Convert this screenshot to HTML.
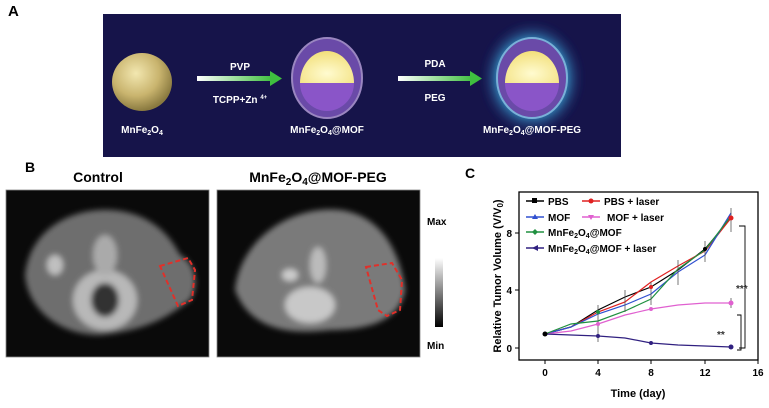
<!DOCTYPE html>
<html><head><style>
html,body{margin:0;padding:0;background:#fff;}
svg{display:block;font-family:"Liberation Sans",Arial,sans-serif;font-weight:bold;}
</style></head><body>
<svg width="769" height="408" viewBox="0 0 769 408" xmlns="http://www.w3.org/2000/svg">
<defs>
<radialGradient id="gold" cx="40%" cy="35%" r="65%"><stop offset="0" stop-color="#f2e7b0"/><stop offset="0.6" stop-color="#c9b46e"/><stop offset="1" stop-color="#8a7a40"/></radialGradient>
<radialGradient id="yel" cx="50%" cy="70%" r="70%"><stop offset="0" stop-color="#fffbd0"/><stop offset="1" stop-color="#f2df7a"/></radialGradient>
<radialGradient id="glow" cx="50%" cy="50%" r="50%"><stop offset="0.6" stop-color="#3fb6e8" stop-opacity="0.9"/><stop offset="1" stop-color="#1a1a5a" stop-opacity="0"/></radialGradient>
<linearGradient id="arr" x1="0" x2="1"><stop offset="0" stop-color="#ffffff"/><stop offset="1" stop-color="#3fbf3f"/></linearGradient>
<linearGradient id="cb" x1="0" y1="0" x2="0" y2="1"><stop offset="0" stop-color="#fff"/><stop offset="1" stop-color="#000"/></linearGradient>
<filter id="bl"><feGaussianBlur stdDeviation="3"/></filter>
</defs>
<!-- Panel A -->
<text x="8" y="16" font-size="15">A</text>
<rect x="103" y="14" width="518" height="143" fill="#16144a"/>
<ellipse cx="142" cy="82" rx="30" ry="29" fill="url(#gold)"/>
<text x="142" y="133" font-size="10" fill="#fff" text-anchor="middle">MnFe<tspan font-size="7" dy="2">2</tspan><tspan dy="-2">O</tspan><tspan font-size="7" dy="2">4</tspan></text>
<rect x="197" y="76" width="75" height="5" fill="url(#arr)"/><polygon points="270,71 282,78.5 270,86" fill="#3fbf3f"/>
<text x="240" y="70" font-size="10" fill="#fff" text-anchor="middle">PVP</text>
<text x="240" y="103" font-size="10" fill="#fff" text-anchor="middle">TCPP+Zn <tspan font-size="6" dy="-4">4+</tspan></text>
<ellipse cx="327" cy="78" rx="35" ry="40" fill="#6a4aa8" stroke="#9a86c0" stroke-width="2"/>
<path d="M300,83 A27 32 0 0 1 354 83 Z" fill="url(#yel)"/>
<path d="M300,83 L354,83 A27 28 0 0 1 300 83 Z" fill="#8a55c8"/>
<text x="327" y="133" font-size="10" fill="#fff" text-anchor="middle">MnFe<tspan font-size="7" dy="2">2</tspan><tspan dy="-2">O</tspan><tspan font-size="7" dy="2">4</tspan><tspan dy="-2">@MOF</tspan></text>
<rect x="398" y="76" width="75" height="5" fill="url(#arr)"/><polygon points="470,71 482,78.5 470,86" fill="#3fbf3f"/>
<text x="435" y="67" font-size="10" fill="#fff" text-anchor="middle">PDA</text>
<text x="435" y="101" font-size="10" fill="#fff" text-anchor="middle">PEG</text>
<ellipse cx="532" cy="78" rx="52" ry="58" fill="url(#glow)" filter="url(#bl)"/>
<ellipse cx="532" cy="78" rx="35" ry="40" fill="#6a4aa8" stroke="#7ab0d8" stroke-width="2"/>
<path d="M505,83 A27 32 0 0 1 559 83 Z" fill="url(#yel)"/>
<path d="M505,83 L559,83 A27 28 0 0 1 505 83 Z" fill="#8a55c8"/>
<text x="532" y="133" font-size="10" fill="#fff" text-anchor="middle">MnFe<tspan font-size="7" dy="2">2</tspan><tspan dy="-2">O</tspan><tspan font-size="7" dy="2">4</tspan><tspan dy="-2">@MOF-PEG</tspan></text>
<!-- Panel B -->
<text x="25" y="172" font-size="14">B</text>
<text x="98" y="182" font-size="14" text-anchor="middle">Control</text>
<text x="318" y="182" font-size="14" text-anchor="middle">MnFe<tspan font-size="10" dy="3">2</tspan><tspan dy="-3">O</tspan><tspan font-size="10" dy="3">4</tspan><tspan dy="-3">@MOF-PEG</tspan></text>
<rect x="6" y="190" width="203" height="167" fill="#0a0a0a" stroke="#888" stroke-width="0.8"/>
<g filter="url(#bl)">
<path d="M25,275 C30,230 70,208 110,210 C150,212 170,235 180,255 C195,262 200,285 190,300 C170,315 150,330 100,335 C60,335 28,310 25,275 Z" fill="#6e6e6e"/>
<ellipse cx="105" cy="300" rx="32" ry="30" fill="#b8b8b8"/>
<ellipse cx="105" cy="300" rx="14" ry="17" fill="#333"/>
<ellipse cx="105" cy="255" rx="12" ry="20" fill="#aaa"/>
<ellipse cx="55" cy="265" rx="8" ry="10" fill="#c0c0c0"/>
</g>
<path d="M160,266 L188,258 L195,270 L192,300 L178,306 Z" fill="none" stroke="#e0302a" stroke-width="2" stroke-dasharray="5,3"/>
<rect x="217" y="190" width="203" height="167" fill="#0a0a0a" stroke="#888" stroke-width="0.8"/>
<g filter="url(#bl)">
<path d="M235,290 C240,240 290,205 340,210 C380,215 400,250 405,290 C400,320 370,330 330,330 C290,335 250,330 235,290 Z" fill="#7a7a7a"/>
<ellipse cx="310" cy="305" rx="25" ry="18" fill="#c8c8c8"/>
<ellipse cx="318" cy="265" rx="8" ry="18" fill="#bbb"/>
<ellipse cx="290" cy="275" rx="8" ry="6" fill="#ccc"/>
</g>
<path d="M366,267 L392,263 L402,280 L400,310 L387,316 L378,310 Z" fill="none" stroke="#e0302a" stroke-width="2" stroke-dasharray="5,3"/>
<rect x="435" y="258" width="8" height="69" fill="url(#cb)"/>
<text x="427" y="225" font-size="10">Max</text>
<text x="427" y="349" font-size="10">Min</text>
<!-- Panel C -->
<text x="465" y="178" font-size="14">C</text>
<rect x="519" y="192" width="239" height="168" fill="none" stroke="#000" stroke-width="1.3"/>
<g stroke="#000" stroke-width="1">
<line x1="545" y1="360" x2="545" y2="364"/><line x1="598" y1="360" x2="598" y2="364"/><line x1="651" y1="360" x2="651" y2="364"/><line x1="705" y1="360" x2="705" y2="364"/><line x1="758" y1="360" x2="758" y2="364"/>
<line x1="515" y1="348" x2="519" y2="348"/><line x1="515" y1="290" x2="519" y2="290"/><line x1="515" y1="233" x2="519" y2="233"/>
</g>
<g font-size="10" text-anchor="middle">
<text x="545" y="376">0</text><text x="598" y="376">4</text><text x="651" y="376">8</text><text x="705" y="376">12</text><text x="758" y="376">16</text>
</g>
<g font-size="10" text-anchor="end">
<text x="512" y="352">0</text><text x="512" y="294">4</text><text x="512" y="237">8</text>
</g>
<text x="638" y="397" font-size="11" text-anchor="middle">Time  (day)</text>
<text transform="translate(501,276) rotate(-90)" font-size="11" text-anchor="middle">Relative Tumor Volume (V/V<tspan font-size="8" dy="2">0</tspan><tspan dy="-2">)</tspan></text>
<g fill="none" stroke-width="1.2">
<polyline stroke="#000" points="545,334 571,327 598,310 625,297 651,287 678,270 705,249 731,218"/>
<polyline stroke="#e02020" points="545,334 571,327 598,312 625,302 651,282 678,266 705,251 731,218"/>
<polyline stroke="#3050d0" points="545,334 571,327 598,314 625,305 651,294 678,272 705,255 731,213"/>
<polyline stroke="#e060d0" points="545,334 571,331 598,324 625,315 651,309 678,305 705,303 731,303"/>
<polyline stroke="#209040" points="545,334 571,324 598,321 625,311 651,299 678,269 705,250 731,216"/>
<polyline stroke="#302080" points="545,334 571,335 598,336 625,338 651,343 678,345 705,346 731,347"/>
</g>
<g stroke-width="0.8" stroke="#555">
<line x1="731" y1="208" x2="731" y2="232"/><line x1="705" y1="241" x2="705" y2="262"/><line x1="678" y1="260" x2="678" y2="285"/><line x1="651" y1="282" x2="651" y2="305"/><line x1="731" y1="298" x2="731" y2="308"/><line x1="625" y1="290" x2="625" y2="312"/><line x1="598" y1="305" x2="598" y2="342"/>
</g>
<g fill="#000"><circle cx="545" cy="334" r="2.5"/><circle cx="731" cy="218" r="2.5" fill="#e02020"/><circle cx="731" cy="303" r="2.5" fill="#e060d0"/><circle cx="731" cy="347" r="2.5" fill="#302080"/><circle cx="651" cy="287" r="2" fill="#e02020"/><circle cx="705" cy="249" r="2"/><circle cx="651" cy="309" r="2" fill="#e060d0"/><circle cx="651" cy="343" r="2" fill="#302080"/><circle cx="598" cy="324" r="2" fill="#e060d0"/><circle cx="598" cy="336" r="2" fill="#302080"/><circle cx="598" cy="312" r="2" fill="#209040"/></g>
<g fill="none" stroke="#000" stroke-width="0.9">
<polyline points="739,226 745,226 745,348 739,348"/>
<polyline points="737,315 741,315 741,350 737,350"/>
</g>
<text x="736" y="292" font-size="10" fill="#333">***</text>
<text x="717" y="338" font-size="10" fill="#333">**</text>
<g font-size="10">
<line x1="526" y1="201" x2="544" y2="201" stroke="#000" stroke-width="1.5"/><rect x="532" y="198" width="5" height="5" fill="#000"/><text x="548" y="205">PBS</text>
<line x1="582" y1="201" x2="600" y2="201" stroke="#e02020" stroke-width="1.5"/><circle cx="591" cy="201" r="2.5" fill="#e02020"/><text x="604" y="205">PBS + laser</text>
<line x1="526" y1="217" x2="544" y2="217" stroke="#3050d0" stroke-width="1.5"/><polygon points="535,214 538,219 532,219" fill="#3050d0"/><text x="548" y="221">MOF</text>
<line x1="582" y1="217" x2="600" y2="217" stroke="#e060d0" stroke-width="1.5"/><polygon points="588,215 594,215 591,220" fill="#e060d0"/><text x="607" y="221">MOF  + laser</text>
<line x1="526" y1="232" x2="544" y2="232" stroke="#209040" stroke-width="1.5"/><polygon points="535,229 538,232 535,235 532,232" fill="#209040"/><text x="548" y="236">MnFe<tspan font-size="7" dy="2">2</tspan><tspan dy="-2">O</tspan><tspan font-size="7" dy="2">4</tspan><tspan dy="-2">@MOF</tspan></text>
<line x1="526" y1="248" x2="544" y2="248" stroke="#302080" stroke-width="1.5"/><polygon points="532,248 538,245 538,251" fill="#302080"/><text x="548" y="252">MnFe<tspan font-size="7" dy="2">2</tspan><tspan dy="-2">O</tspan><tspan font-size="7" dy="2">4</tspan><tspan dy="-2">@MOF  + laser</tspan></text>
</g>
</svg>
</body></html>
